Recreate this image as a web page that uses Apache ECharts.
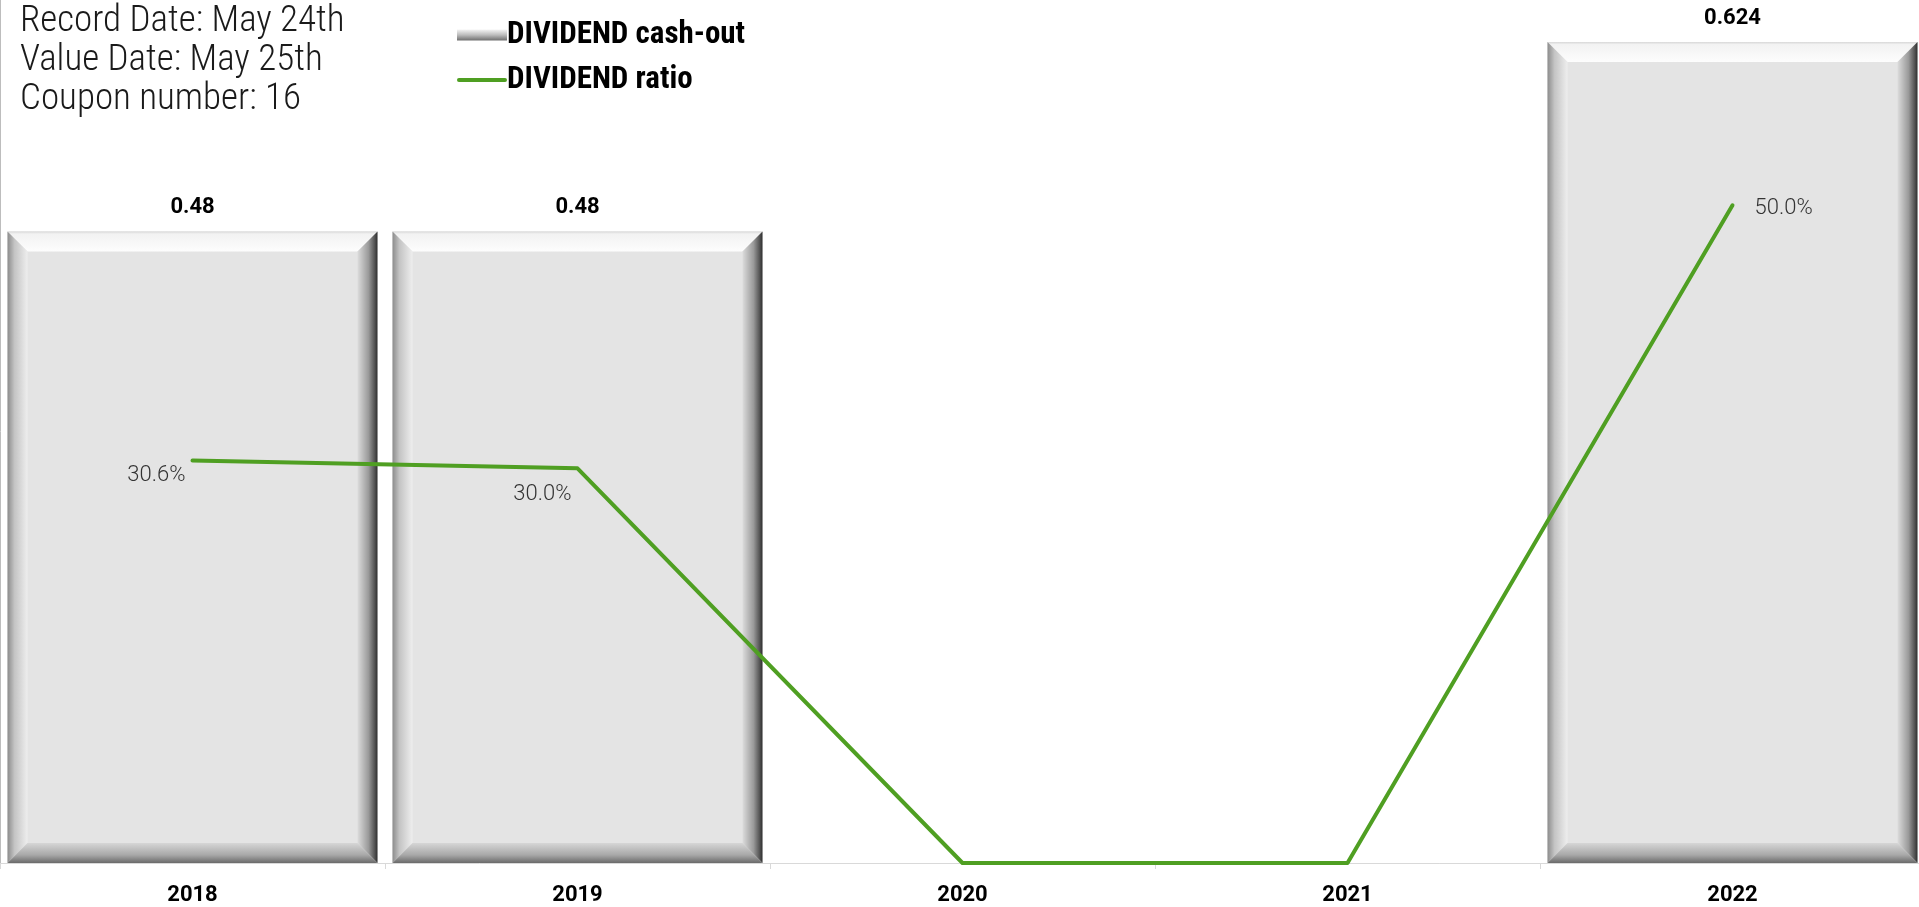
<!DOCTYPE html>
<html>
<head>
<meta charset="utf-8">
<title>Dividend history</title>
<script src="https://cdn.jsdelivr.net/npm/echarts@6/dist/echarts.min.js"></script>
<style>
  html, body { margin: 0; padding: 0; background: #ffffff; }
  #chart { width: 1919px; height: 907px; }
</style>
</head>
<body>
<div id="chart"></div>
<script>
// Fiscal years on the category axis
const years = ['2018', '2019', '2020', '2021', '2022'];
// Dividend paid per share (cash-out)
const cashOut = [0.48, 0.48, 0, 0, 0.624];
// Payout ratio, percent
const ratio = [30.6, 30.0, 0, 0, 50.0];
// Notes printed in the upper-left corner
const notes = ['Record Date: May 24th', 'Value Date: May 25th', 'Coupon number: 16'];

const GREEN = '#4f9f22';
const BEVEL = 20;

const LG = echarts.graphic.LinearGradient;

// Bevelled bar: flat face with four shaded edge trapezoids
function renderBevelBar(params, api) {
  const idx = api.value(0);
  const val = api.value(1);
  if (!val) return null;
  const base = api.coord([idx, 0]);
  const top = api.coord([idx, val]);
  const bw = api.size([1, 0])[0] * 0.961;
  const x0 = base[0] - bw / 2, x1 = base[0] + bw / 2;
  const y0 = top[1], y1 = base[1];
  const b = Math.min(BEVEL, (x1 - x0) / 2, (y1 - y0) / 2);
  return {
    type: 'group',
    children: [
      { type: 'rect', shape: { x: x0, y: y0, width: x1 - x0, height: y1 - y0 },
        style: { fill: '#e4e4e4' } },
      // top edge
      { type: 'polygon', shape: { points: [[x0, y0], [x1, y0], [x1 - b, y0 + b], [x0 + b, y0 + b]] },
        style: { fill: new LG(0, 0, 0, 1, [
          { offset: 0, color: '#d8d8d8' }, { offset: 0.12, color: '#f2f2f2' },
          { offset: 1, color: '#fdfdfd' }]) } },
      // left edge
      { type: 'polygon', shape: { points: [[x0, y0], [x0 + b, y0 + b], [x0 + b, y1 - b], [x0, y1]] },
        style: { fill: new LG(0, 0, 1, 0, [
          { offset: 0, color: '#8c8c8c' }, { offset: 0.35, color: '#c4c4c4' },
          { offset: 1, color: '#eeeeee' }]) } },
      // right edge
      { type: 'polygon', shape: { points: [[x1, y0], [x1, y1], [x1 - b, y1 - b], [x1 - b, y0 + b]] },
        style: { fill: new LG(0, 0, 1, 0, [
          { offset: 0, color: '#dcdcdc' }, { offset: 0.55, color: '#9a9a9a' },
          { offset: 0.85, color: '#555555' }, { offset: 1, color: '#2e2e2e' }]) } },
      // bottom edge
      { type: 'polygon', shape: { points: [[x0, y1], [x0 + b, y1 - b], [x1 - b, y1 - b], [x1, y1]] },
        style: { fill: new LG(0, 0, 0, 1, [
          { offset: 0, color: '#d6d6d6' }, { offset: 0.6, color: '#a8a8a8' },
          { offset: 1, color: '#6a6a6a' }]) } },
      // value label above the bar
      { type: 'text', x: (x0 + x1) / 2, y: y0 - 24,
        style: { text: String(val), fontFamily: 'Roboto', fontWeight: 'bold', fontSize: 22,
          fill: '#000000', align: 'center', verticalAlign: 'middle' } }
    ]
  };
}

// Per-point label placement for the ratio line
const ratioLabelPlace = [
  { position: 'left', offset: [-2, 15] },
  { position: 'left', offset: [-1, 26] },
  null,
  null,
  { position: 'right', offset: [17, 3] }
];

const ratioData = ratio.map((v, i) => {
  const place = ratioLabelPlace[i];
  return {
    value: v,
    label: place ? Object.assign({ show: true }, place) : { show: false }
  };
});

const chart = echarts.init(document.getElementById('chart'), null, { renderer: 'canvas' });

chart.setOption({
  animation: false,
  backgroundColor: '#ffffff',
  grid: { left: 0, width: 1925, top: 0, bottom: 44, containLabel: false, outerBoundsMode: 'none' },
  legend: {
    orient: 'vertical',
    left: 452,
    top: 13,
    itemGap: 11,
    itemWidth: 50,
    itemHeight: 11,
    textStyle: { fontFamily: 'Roboto Condensed, Roboto', fontWeight: 'bold', fontSize: 31,
      lineHeight: 34, color: '#000000', padding: [0, 0, 0, -5] },
    data: [
      { name: 'DIVIDEND cash-out', icon: 'rect' },
      { name: 'DIVIDEND ratio',
        icon: 'path://M0,0L0.001,0L0.001,11L0,11Z M1,3.5L49,3.5A2,2 0 0 1 49,7.5L1,7.5A2,2 0 0 1 1,3.5Z',
        itemStyle: { color: GREEN } }
    ]
  },
  graphic: notes.map((t, i) => ({
    type: 'text',
    left: 20,
    top: 2 + i * 39,
    style: { text: t, fontFamily: 'Roboto Condensed, Roboto', fontWeight: 300, fontSize: 37,
      lineHeight: 39, fill: '#1a1a1a' }
  })),
  xAxis: {
    type: 'category',
    data: years,
    boundaryGap: true,
    axisLine: { show: true, lineStyle: { color: '#d9d9d9', width: 1 } },
    axisTick: { show: true, length: 6, lineStyle: { color: '#d9d9d9' } },
    axisLabel: { margin: 21, fontFamily: 'Roboto', fontWeight: 'bold', fontSize: 22, color: '#000000' }
  },
  yAxis: [
    { type: 'value', min: 0, max: 0.656,
      axisLine: { show: true, lineStyle: { color: '#bdbdbd' } },
      axisTick: { show: false }, axisLabel: { show: false }, splitLine: { show: false } },
    { type: 'value', min: 0, max: 65.6, show: false, splitLine: { show: false } }
  ],
  series: [
    {
      name: 'DIVIDEND cash-out',
      type: 'custom',
      yAxisIndex: 0,
      renderItem: renderBevelBar,
      itemStyle: { color: new LG(0, 0, 0, 1, [
        { offset: 0, color: '#f4f4f4' }, { offset: 0.5, color: '#bcbcbc' },
        { offset: 1, color: '#6e6e6e' }]) },
      encode: { x: 0, y: 1 },
      data: cashOut.map((v, i) => [i, v]),
      z: 2
    },
    {
      name: 'DIVIDEND ratio',
      type: 'line',
      yAxisIndex: 1,
      data: ratioData,
      symbol: 'circle',
      symbolSize: 0.1,
      showSymbol: true,
      lineStyle: { color: GREEN, width: 4, cap: 'round', join: 'round' },
      itemStyle: { color: GREEN },
      label: {
        fontFamily: 'Roboto', fontWeight: 300, fontSize: 22, color: '#333333',
        formatter: p => p.value.toFixed(1) + '%'
      },
      z: 5
    }
  ]
});
</script>
</body>
</html>
